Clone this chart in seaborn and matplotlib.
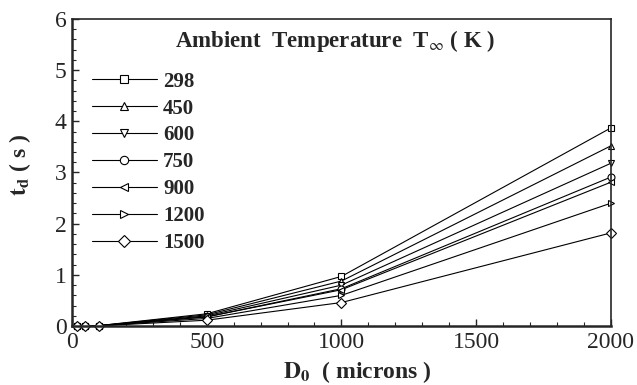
import numpy as np
import pandas as pd
import seaborn as sns
import matplotlib as mpl
from matplotlib import pyplot as plt
from matplotlib.lines import Line2D
from matplotlib.ticker import MultipleLocator, StrMethodFormatter

# droplet lifetime vs initial diameter, one curve per ambient temperature
diameters = [20, 50, 100, 500, 1000, 2000]
temps = ["298", "450", "600", "750", "900", "1200", "1500"]
t298 = [0.0004, 0.0024, 0.0097, 0.24, 0.97, 3.87]
t450 = [0.0004, 0.0022, 0.0088, 0.22, 0.88, 3.52]
t600 = [0.0003, 0.0020, 0.0080, 0.20, 0.80, 3.18]
t750 = [0.0003, 0.0018, 0.0073, 0.18, 0.73, 2.91]
t900 = [0.0003, 0.0018, 0.0071, 0.18, 0.71, 2.81]
t1200 = [0.0002, 0.0015, 0.0060, 0.15, 0.60, 2.40]
t1500 = [0.0002, 0.0012, 0.0046, 0.115, 0.46, 1.82]
series = [t298, t450, t600, t750, t900, t1200, t1500]
markers = ["s", "^", "v", "o", "<", ">", "D"]

sns.set_style("ticks")
SERIF = ["Liberation Serif", "DejaVu Serif"]
plt.rcParams["font.family"] = SERIF
plt.rcParams["mathtext.fontset"] = "stix"

df = pd.concat([
    pd.DataFrame({"D0": diameters, "td": vals, "T": t})
    for t, vals in zip(temps, series)
])

fig, ax = plt.subplots(figsize=(6.37, 3.85), dpi=100)
fig.subplots_adjust(left=0.113, right=0.959, top=0.951, bottom=0.153)

sns.lineplot(data=df, x="D0", y="td", hue="T", style="T",
             palette=["black"] * len(temps), markers=dict(zip(temps, markers)),
             dashes=False, linewidth=0.8, markersize=5,
             markerfacecolor="white", markeredgecolor="black", mew=0.8,
             clip_on=False, legend=False, ax=ax)

ax.set_xlim(0, 2000)
ax.set_ylim(0, 6)
ax.xaxis.set_major_locator(MultipleLocator(500))
ax.xaxis.set_minor_locator(MultipleLocator(100))
ax.yaxis.set_major_locator(MultipleLocator(1))
ax.yaxis.set_minor_locator(MultipleLocator(0.2))
ax.xaxis.set_major_formatter(StrMethodFormatter("{x:g}"))
ax.yaxis.set_major_formatter(StrMethodFormatter("{x:g}"))
ax.tick_params(which="both", direction="in", top=False, right=False, labelsize=17, pad=4)
ax.tick_params(which="major", length=5, width=1)
ax.tick_params(which="minor", length=3, width=0.8)
for s in ["left", "bottom"]:
    ax.spines[s].set_linewidth(1.8)
for s in ["top", "right"]:
    ax.spines[s].set_linewidth(1.2)

ax.set_xlabel(r"$\mathbf{D_0}$  ( microns )", fontsize=17, fontweight="bold")
ax.set_ylabel(r"$\mathbf{t_d}$ ( s )", fontsize=17, fontweight="bold")
ax.xaxis.set_label_coords(0.53, -0.108)
ax.yaxis.set_label_coords(-0.072, 0.524)

handles = [Line2D([], [], color="black", lw=0.8, marker=m, markersize=6,
                  markerfacecolor="white", markeredgecolor="black", mew=0.8)
           for m in markers]
ax.legend(handles, temps, loc="upper left", bbox_to_anchor=(0.022, 0.855),
          frameon=False, handlelength=3.1, handletextpad=0.3, labelspacing=0.33,
          borderaxespad=0, prop={"weight": "bold", "size": 15, "family": SERIF})

ax.text(0.488, 0.928, r"Ambient  Temperature  T$_{\infty}$ ( K )", transform=ax.transAxes,
        ha="center", va="center", fontsize=16.5, fontweight="bold")

for lbl in ax.get_xticklabels() + ax.get_yticklabels():
    lbl.set_fontfamily("Liberation Serif")

fig.savefig("out.png", dpi=100)
